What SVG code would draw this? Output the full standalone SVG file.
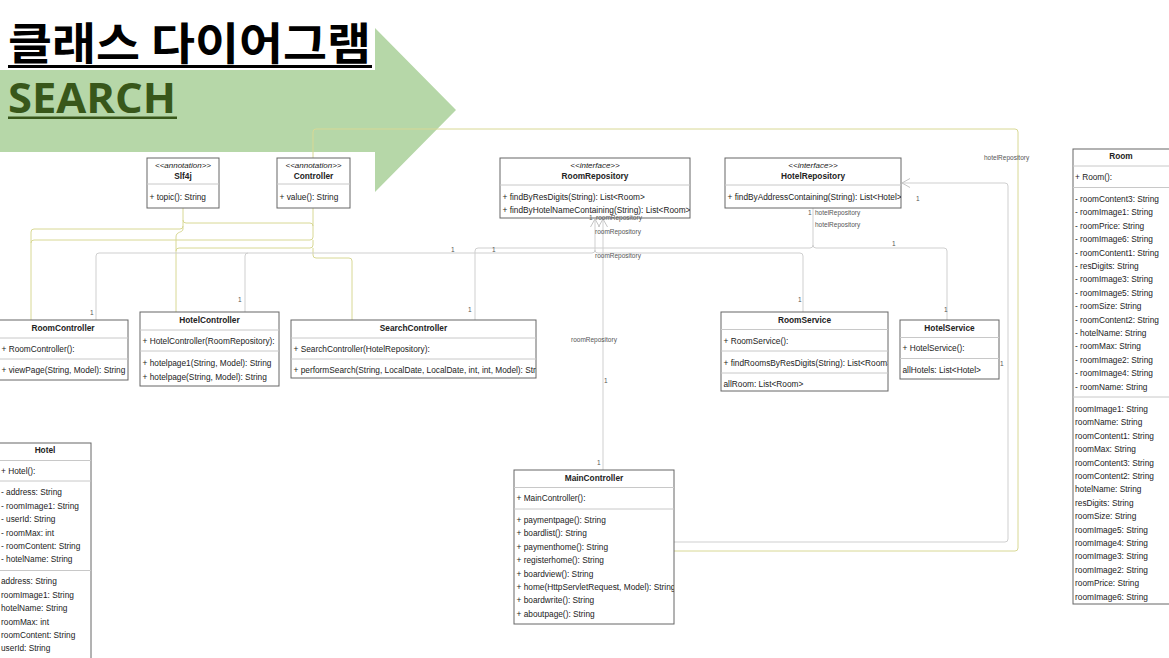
<svg xmlns="http://www.w3.org/2000/svg" width="1169" height="658" viewBox="0 0 1169 658">
<style>
.box{fill:#fff;stroke:#666;stroke-width:1}
.sep{stroke:#c8c8c8;stroke-width:1}
.t{font-family:"Liberation Sans",Arial,sans-serif;font-size:8.3px;fill:#222}
.h{font-weight:bold;text-anchor:middle}
.st{font-style:italic;font-size:8px;text-anchor:middle}
.g{fill:none;stroke:#cfcfcf;stroke-width:1}
.y{fill:none;stroke:#d8d894;stroke-width:1}
.lb{font-family:"Liberation Sans",Arial,sans-serif;font-size:6.5px;fill:#555}
</style>
<defs>
<marker id="open" viewBox="-10 -6 11 12" refX="0" refY="0" markerWidth="11" markerHeight="12" markerUnits="userSpaceOnUse" orient="auto">
<path d="M-8,-4.5 L0,0 L-8,4.5" fill="none" stroke="#c4c4c4" stroke-width="1"/>
</marker>
<clipPath id="cRR"><rect x="500" y="158" width="190" height="60"/></clipPath>
<clipPath id="cHR"><rect x="725" y="158" width="176" height="50"/></clipPath>
<clipPath id="cSC"><rect x="291" y="320" width="245" height="58"/></clipPath>
<clipPath id="cRS"><rect x="721" y="312" width="167" height="79"/></clipPath>
<clipPath id="cMC"><rect x="514" y="470" width="160" height="154"/></clipPath>
</defs>

<g id="title">
<polygon points="0,70 375,70 375,28 456,110 375,192 375,152 0,152" fill="#b6d7a8"/>
<text x="8" y="60" font-family="'Noto Sans CJK KR',sans-serif" font-weight="700" font-size="44" fill="#000" textLength="363" lengthAdjust="spacingAndGlyphs">클래스 다이어그램</text>
<rect x="8" y="65" width="364" height="3" fill="#000"/>
<text x="8" y="113" font-family="'Open Sans',sans-serif" font-weight="700" font-size="41" fill="#38571a" textLength="168" lengthAdjust="spacingAndGlyphs">SEARCH</text>
<rect x="8" y="116.5" width="169" height="2.5" fill="#38571a"/>
</g>

<g id="connectors">
<path class="y" d="M183,208 V226 Q183,229 180,229 H34 Q31,229 31,232 V320"/>
<path class="y" d="M313,208 V237 Q313,240 310,240 H34 Q31,240 31,243"/>
<path class="y" d="M183,226 V229 C183,233 176,231 176,237 V312"/>
<path class="y" d="M183,220 Q183,223 186,223 H310 Q313,223 313,226"/>
<path class="y" d="M313,240 V245 Q313,248 310,248 H179 Q176,248 176,251"/>
<path class="y" d="M313,248 V255 Q313,258 316,258 H349 Q352,258 352,261 V320"/>
<path class="y" d="M313,158 V132 Q313,129 316,129 H1015 Q1018,129 1018,132 V548 Q1018,551 1015,551 H674"/>
<path class="g" d="M674,542 H1005 Q1008,542 1008,539 V186 Q1008,183 1005,183 H902" marker-end="url(#open)"/>
<path class="g" d="M603,470 V219" marker-end="url(#open)"/>
<path class="g" d="M96,320 V256 Q96,253 99,253 H592 Q595,253 595,250 V219" marker-end="url(#open)"/>
<path class="g" d="M245,312 V256 Q245,253 248,253"/>
<path class="g" d="M803,312 V256 Q803,253 800,253 H598 Q595,253 595,250"/>
<path class="g" d="M475,320 V251 Q475,248 478,248 H810 Q813,248 813,245 V208"/>
<path class="g" d="M947,320 V251 Q947,248 944,248 H816 Q813,248 813,245"/>
</g>

<g id="Slf4j">
<rect class="box" x="147" y="158" width="72" height="50"/>
<line class="sep" x1="147" y1="184" x2="219" y2="184"/>
<text class="t st" x="183" y="167.5">&lt;&lt;annotation&gt;&gt;</text>
<text class="t h" x="183" y="179">Slf4j</text>
<text class="t" x="149.5" y="199.5">+ topic(): String</text>
</g>

<g id="Controller">
<rect class="box" x="277" y="158" width="73" height="50"/>
<line class="sep" x1="277" y1="184" x2="350" y2="184"/>
<text class="t st" x="313.5" y="167.5">&lt;&lt;annotation&gt;&gt;</text>
<text class="t h" x="313.5" y="179">Controller</text>
<text class="t" x="279.5" y="199.5">+ value(): String</text>
</g>

<g id="RoomRepository">
<rect class="box" x="500" y="158" width="190" height="60"/>
<line class="sep" x1="500" y1="185" x2="690" y2="185"/>
<g clip-path="url(#cRR)">
<text class="t st" x="595" y="167.5">&lt;&lt;interface&gt;&gt;</text>
<text class="t h" x="595" y="179">RoomRepository</text>
<text class="t" x="502.5" y="199.5">+ findByResDigits(String): List&lt;Room&gt;</text>
<text class="t" x="502.5" y="212.5">+ findByHotelNameContaining(String): List&lt;Room&gt;</text>
</g>
</g>

<g id="HotelRepository">
<rect class="box" x="725" y="158" width="176" height="50"/>
<line class="sep" x1="725" y1="185" x2="901" y2="185"/>
<g clip-path="url(#cHR)">
<text class="t st" x="813" y="167.5">&lt;&lt;interface&gt;&gt;</text>
<text class="t h" x="813" y="179">HotelRepository</text>
<text class="t" x="727.5" y="200">+ findByAddressContaining(String): List&lt;Hotel&gt;</text>
</g>
</g>

<g id="RoomController">
<rect class="box" x="-1" y="320" width="129" height="60"/>
<line class="sep" x1="-1" y1="338" x2="128" y2="338"/>
<line class="sep" x1="-1" y1="359" x2="128" y2="359"/>
<text class="t h" x="63" y="330.5">RoomController</text>
<text class="t" x="1.5" y="351.5">+ RoomController():</text>
<text class="t" x="1.5" y="373">+ viewPage(String, Model): String</text>
</g>

<g id="HotelController">
<rect class="box" x="140" y="312" width="139" height="74"/>
<line class="sep" x1="140" y1="330" x2="279" y2="330"/>
<line class="sep" x1="140" y1="351" x2="279" y2="351"/>
<text class="t h" x="209.5" y="323">HotelController</text>
<text class="t" x="142.5" y="343.5">+ HotelController(RoomRepository):</text>
<text class="t" x="142.5" y="366">+ hotelpage1(String, Model): String</text>
<text class="t" x="142.5" y="379.5">+ hotelpage(String, Model): String</text>
</g>

<g id="SearchController">
<rect class="box" x="291" y="320" width="245" height="58"/>
<line class="sep" x1="291" y1="338" x2="536" y2="338"/>
<line class="sep" x1="291" y1="359" x2="536" y2="359"/>
<g clip-path="url(#cSC)">
<text class="t h" x="413.5" y="330.5">SearchController</text>
<text class="t" x="293.5" y="351.5">+ SearchController(HotelRepository):</text>
<text class="t" x="293.5" y="373">+ performSearch(String, LocalDate, LocalDate, int, int, Model): String</text>
</g>
</g>

<g id="RoomService">
<rect class="box" x="721" y="312" width="167" height="79"/>
<line class="sep" x1="721" y1="329.5" x2="888" y2="329.5"/>
<line class="sep" x1="721" y1="351" x2="888" y2="351"/>
<line class="sep" x1="721" y1="373" x2="888" y2="373"/>
<g clip-path="url(#cRS)">
<text class="t h" x="804.5" y="323">RoomService</text>
<text class="t" x="723.5" y="343.5">+ RoomService():</text>
<text class="t" x="723.5" y="366">+ findRoomsByResDigits(String): List&lt;Room&gt;</text>
<text class="t" x="723.5" y="387">allRoom: List&lt;Room&gt;</text>
</g>
</g>

<g id="HotelService">
<rect class="box" x="900" y="320" width="99" height="59"/>
<line class="sep" x1="900" y1="337.5" x2="999" y2="337.5"/>
<line class="sep" x1="900" y1="358.5" x2="999" y2="358.5"/>
<text class="t h" x="949.5" y="330.5">HotelService</text>
<text class="t" x="902.5" y="350.5">+ HotelService():</text>
<text class="t" x="902.5" y="373">allHotels: List&lt;Hotel&gt;</text>
</g>

<g id="Hotel">
<rect class="box" x="-1" y="443" width="92" height="230"/>
<line class="sep" x1="-1" y1="460.5" x2="91" y2="460.5"/>
<line class="sep" x1="-1" y1="481" x2="91" y2="481"/>
<line class="sep" x1="-1" y1="570.5" x2="91" y2="570.5"/>
<text class="t h" x="45" y="453">Hotel</text>
<text class="t" x="1" y="473.5">+ Hotel():</text>
<text class="t" x="1" y="495.4">- address: String</text>
<text class="t" x="1" y="508.8">- roomImage1: String</text>
<text class="t" x="1" y="522.2">- userId: String</text>
<text class="t" x="1" y="535.6">- roomMax: int</text>
<text class="t" x="1" y="549">- roomContent: String</text>
<text class="t" x="1" y="562.4">- hotelName: String</text>
<text class="t" x="1" y="584.4">address: String</text>
<text class="t" x="1" y="597.8">roomImage1: String</text>
<text class="t" x="1" y="611.2">hotelName: String</text>
<text class="t" x="1" y="624.6">roomMax: int</text>
<text class="t" x="1" y="638">roomContent: String</text>
<text class="t" x="1" y="651.4">userId: String</text>
</g>

<g id="Room">
<rect class="box" x="1073" y="149" width="97" height="455"/>
<line class="sep" x1="1073" y1="166" x2="1170" y2="166"/>
<line class="sep" x1="1073" y1="187.5" x2="1170" y2="187.5"/>
<line class="sep" x1="1073" y1="397" x2="1170" y2="397"/>
<text class="t h" x="1121" y="159">Room</text>
<text class="t" x="1075" y="180">+ Room():</text>
<text class="t" x="1075" y="202">- roomContent3: String</text>
<text class="t" x="1075" y="215.4">- roomImage1: String</text>
<text class="t" x="1075" y="228.8">- roomPrice: String</text>
<text class="t" x="1075" y="242.2">- roomImage6: String</text>
<text class="t" x="1075" y="255.6">- roomContent1: String</text>
<text class="t" x="1075" y="269">- resDigits: String</text>
<text class="t" x="1075" y="282.4">- roomImage3: String</text>
<text class="t" x="1075" y="295.8">- roomImage5: String</text>
<text class="t" x="1075" y="309.2">- roomSize: String</text>
<text class="t" x="1075" y="322.6">- roomContent2: String</text>
<text class="t" x="1075" y="336">- hotelName: String</text>
<text class="t" x="1075" y="349.4">- roomMax: String</text>
<text class="t" x="1075" y="362.8">- roomImage2: String</text>
<text class="t" x="1075" y="376.2">- roomImage4: String</text>
<text class="t" x="1075" y="389.6">- roomName: String</text>
<text class="t" x="1075" y="412">roomImage1: String</text>
<text class="t" x="1075" y="425.4">roomName: String</text>
<text class="t" x="1075" y="438.8">roomContent1: String</text>
<text class="t" x="1075" y="452.2">roomMax: String</text>
<text class="t" x="1075" y="465.6">roomContent3: String</text>
<text class="t" x="1075" y="479">roomContent2: String</text>
<text class="t" x="1075" y="492.4">hotelName: String</text>
<text class="t" x="1075" y="505.8">resDigits: String</text>
<text class="t" x="1075" y="519.2">roomSize: String</text>
<text class="t" x="1075" y="532.6">roomImage5: String</text>
<text class="t" x="1075" y="546">roomImage4: String</text>
<text class="t" x="1075" y="559.4">roomImage3: String</text>
<text class="t" x="1075" y="572.8">roomImage2: String</text>
<text class="t" x="1075" y="586.2">roomPrice: String</text>
<text class="t" x="1075" y="599.6">roomImage6: String</text>
</g>

<g id="MainController">
<rect class="box" x="514" y="470" width="160" height="154"/>
<line class="sep" x1="514" y1="487.5" x2="674" y2="487.5"/>
<line class="sep" x1="514" y1="509" x2="674" y2="509"/>
<g clip-path="url(#cMC)">
<text class="t h" x="594" y="480.5">MainController</text>
<text class="t" x="516.5" y="500.5">+ MainController():</text>
<text class="t" x="516.5" y="523">+ paymentpage(): String</text>
<text class="t" x="516.5" y="536.4">+ boardlist(): String</text>
<text class="t" x="516.5" y="549.8">+ paymenthome(): String</text>
<text class="t" x="516.5" y="563.2">+ registerhome(): String</text>
<text class="t" x="516.5" y="576.6">+ boardview(): String</text>
<text class="t" x="516.5" y="590">+ home(HttpServletRequest, Model): String</text>
<text class="t" x="516.5" y="603.4">+ boardwrite(): String</text>
<text class="t" x="516.5" y="616.8">+ aboutpage(): String</text>
</g>
</g>

<g id="connector-labels">
<text class="lb" x="90" y="315">1</text>
<text class="lb" x="238" y="302">1</text>
<text class="lb" x="451" y="252">1</text>
<text class="lb" x="492" y="252">1</text>
<text class="lb" x="468" y="312">1</text>
<text class="lb" x="589" y="219.5">1</text>
<text class="lb" x="596" y="219.5">roomRepository</text>
<text class="lb" x="595" y="234">roomRepository</text>
<text class="lb" x="595" y="258">roomRepository</text>
<text class="lb" x="571" y="342">roomRepository</text>
<text class="lb" x="604" y="383">1</text>
<text class="lb" x="597" y="465">1</text>
<text class="lb" x="808" y="215">1</text>
<text class="lb" x="815" y="215">hotelRepository</text>
<text class="lb" x="815" y="227">hotelRepository</text>
<text class="lb" x="892" y="246">1</text>
<text class="lb" x="798" y="302">1</text>
<text class="lb" x="944" y="312">1</text>
<text class="lb" x="916" y="201">1</text>
<text class="lb" x="984" y="160">hotelRepository</text>
<text class="lb" x="1000" y="366">1</text>
</g>
</svg>
